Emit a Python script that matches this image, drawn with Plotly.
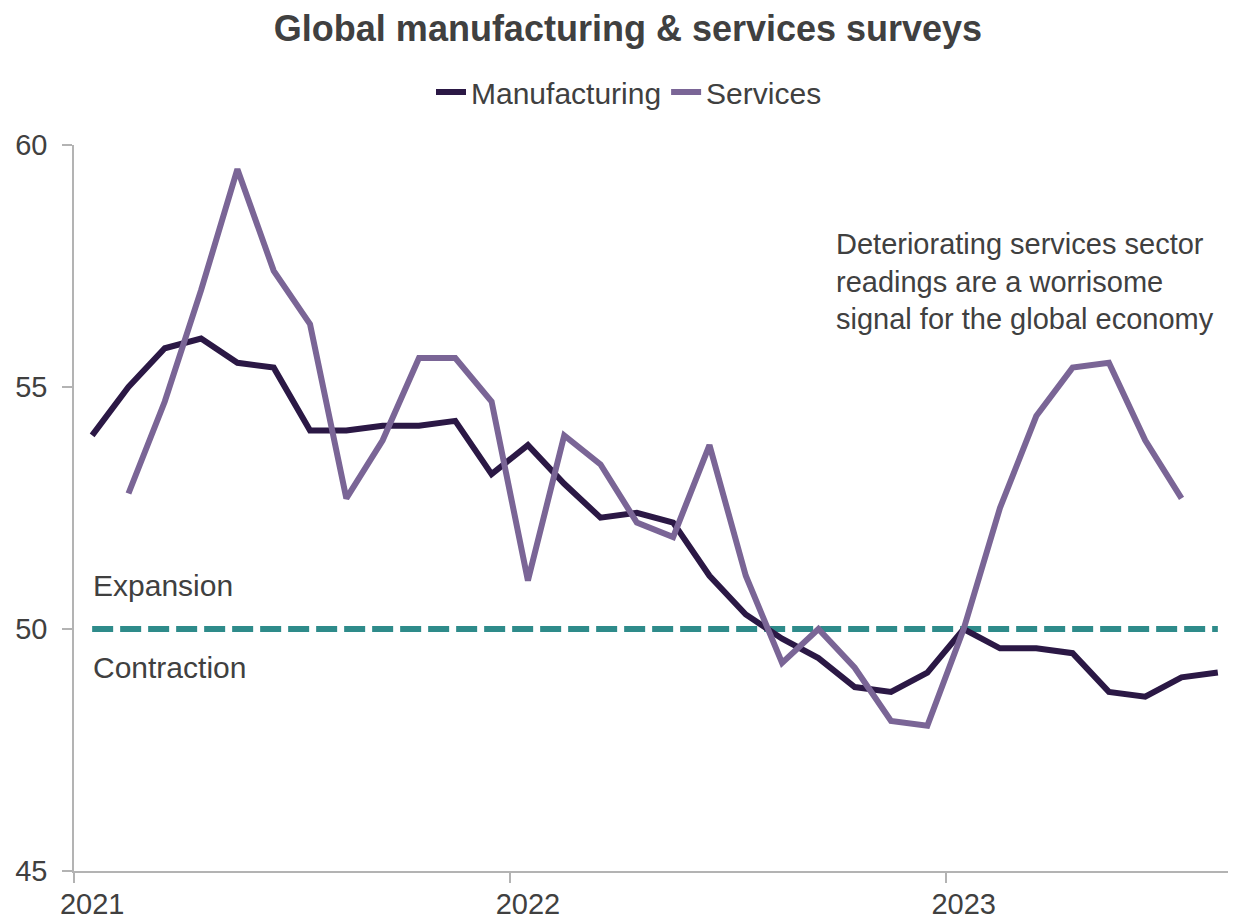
import plotly.graph_objects as go

# ---------------- data ----------------
months = [f"{y}-{m:02d}" for y in (2021, 2022, 2023) for m in range(1, 13)][:32]

manufacturing = [54.0, 55.0, 55.8, 56.0, 55.5, 55.4, 54.1, 54.1, 54.2, 54.2, 54.3, 53.2,
                 53.8, 53.0, 52.3, 52.4, 52.2, 51.1, 50.3, 49.8, 49.4, 48.8, 48.7, 49.1,
                 50.0, 49.6, 49.6, 49.5, 48.7, 48.6, 49.0, 49.1]

services_months = months[1:31]
services = [52.8, 54.7, 57.0, 59.5, 57.4, 56.3, 52.7, 53.9, 55.6, 55.6, 54.7,
            51.0, 54.0, 53.4, 52.2, 51.9, 53.8, 51.1, 49.3, 50.0, 49.2, 48.1, 48.0,
            50.0, 52.5, 54.4, 55.4, 55.5, 53.9, 52.7]

threshold = 50
year_labels = ["2021", "2022", "2023"]
year_starts = ["2021-01", "2022-01", "2023-01"]
y_ticks = [45, 50, 55, 60]

# ---------------- figure ----------------
idx = {m: i for i, m in enumerate(months)}
x_man = [idx[m] for m in months]
x_srv = [idx[m] for m in services_months]

TEXT = "#404040"
FONT = "Liberation Sans, Arial, sans-serif"
AXIS = "#b3b3b3"

# page body has an 8px default margin; figure is sized to fill the remaining window
W, H, OFF = 1228, 912, 8

fig = go.Figure()
fig.add_trace(go.Scatter(x=x_man, y=[threshold] * len(x_man), mode="lines",
                         line=dict(color="#2e8b8a", width=6, dash="21px,7px"),
                         showlegend=False, hoverinfo="skip"))
fig.add_trace(go.Scatter(x=x_man, y=manufacturing, mode="lines", name="Manufacturing",
                         line=dict(color="#2b1845", width=6)))
fig.add_trace(go.Scatter(x=x_srv, y=services, mode="lines", name="Services",
                         line=dict(color="#7a6596", width=6)))

major = [idx[m] for m in year_starts]
fig.update_layout(
    width=W, height=H,
    paper_bgcolor="white", plot_bgcolor="white",
    margin=dict(l=74 - OFF, r=0, t=145 - OFF, b=49, autoexpand=False),
    font=dict(family=FONT, color=TEXT),
    title=dict(text="<b>Global manufacturing & services surveys</b>",
               x=(628 - OFF) / W, xanchor="center", y=1 - (28 - OFF) / H, yanchor="middle",
               font=dict(size=36, color=TEXT, family=FONT)),
    legend=dict(orientation="h", x=(629 - OFF) / W, xanchor="center", xref="container",
                y=1 - (92 - OFF) / H, yanchor="middle", yref="container",
                font=dict(size=30, color=TEXT), itemwidth=30, bgcolor="rgba(0,0,0,0)"),
    xaxis=dict(range=[-0.5, len(months) - 0.5], tickvals=major, ticktext=year_labels,
               ticks="", showgrid=False, zeroline=False, showline=True, linecolor=AXIS,
               linewidth=1.5, tickfont=dict(size=29, color=TEXT), ticklabelstandoff=6,
               minor=dict(tickvals=[v - 0.5 for v in major], ticks="outside", ticklen=10,
                          tickcolor=AXIS, tickwidth=1.5, showgrid=False)),
    yaxis=dict(range=[45, 60], tickvals=y_ticks, ticks="outside", ticklen=10,
               tickcolor=AXIS, tickwidth=1.5, showgrid=False, zeroline=False,
               showline=True, linecolor=AXIS, linewidth=1.5,
               tickfont=dict(size=29, color=TEXT), ticklabelstandoff=9),
    showlegend=True,
)

fig.add_annotation(text="Expansion", xref="paper", x=0.015, xanchor="left",
                   yref="y", y=50.9, yanchor="middle", showarrow=False,
                   font=dict(size=30, color=TEXT))
fig.add_annotation(text="Contraction", xref="paper", x=0.015, xanchor="left",
                   yref="y", y=49.2, yanchor="middle", showarrow=False,
                   font=dict(size=30, color=TEXT))
fig.add_annotation(text="Deteriorating services sector<br>readings are a worrisome<br>signal for the global economy",
                   xref="paper", x=0.654, xanchor="left", yref="y", y=57.19,
                   yanchor="middle", align="left", showarrow=False,
                   font=dict(size=29, color=TEXT))

fig.write_html("out.html")
